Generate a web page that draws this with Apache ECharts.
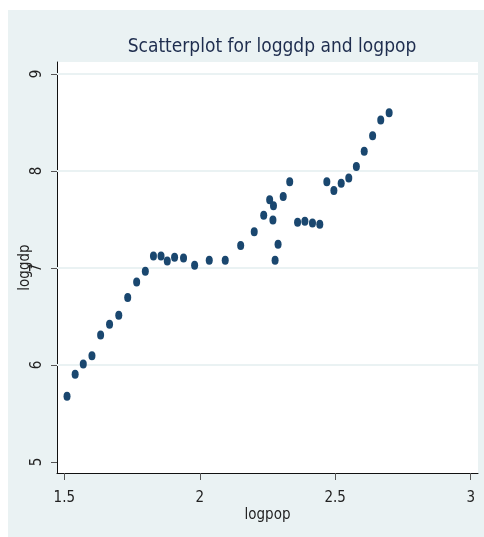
<!DOCTYPE html>
<html>
<head>
<meta charset="utf-8">
<script src="https://cdn.jsdelivr.net/npm/echarts@6/dist/echarts.min.js"></script>
<style>
    html, body { margin: 0; padding: 0; background: #ffffff; }
    #chart { width: 484px; height: 537px; }
</style>
</head>
<body>
<div id="chart"></div>
<script>
// logpop (x) and loggdp (y)
var logpop = [
    1.510, 1.540, 1.570, 1.602, 1.634, 1.667, 1.701, 1.734, 1.767, 1.799,
    1.829, 1.857, 1.880, 1.907, 1.940, 1.981, 2.035, 2.094, 2.151, 2.201,
    2.236, 2.258, 2.272, 2.270, 2.278, 2.289, 2.308, 2.332, 2.361, 2.388,
    2.416, 2.443, 2.469, 2.495, 2.522, 2.550, 2.578, 2.607, 2.638, 2.668,
    2.699
];
var loggdp = [
    5.677, 5.904, 6.010, 6.097, 6.310, 6.420, 6.513, 6.696, 6.857, 6.967,
    7.125, 7.125, 7.073, 7.111, 7.104, 7.029, 7.080, 7.080, 7.232, 7.373,
    7.545, 7.703, 7.641, 7.496, 7.080, 7.246, 7.738, 7.889, 7.473, 7.483,
    7.465, 7.452, 7.889, 7.800, 7.875, 7.927, 8.047, 8.205, 8.363, 8.525,
    8.601
];
// tick labels
var xTicks = [1.5, 2, 2.5, 3];
var yTicks = [5, 6, 7, 8, 9];
var yGrid = [6, 7, 8, 9];

var FONT = "'DejaVu Sans Condensed', 'Liberation Sans Narrow', sans-serif";
var BG = '#eaf2f3';
var NAVY = '#1a476f';

var points = logpop.map(function (x, i) {
    return [x, loggdp[i]];
});

var chart = echarts.init(document.getElementById('chart'), null, { renderer: 'canvas' });
chart.setOption({
    animation: false,
    backgroundColor: '#ffffff',
    textStyle: { fontFamily: FONT },
    graphic: [
        {
            type: 'rect',
            z: -10,
            shape: { x: 8, y: 10, width: 476, height: 527 },
            style: { fill: BG }
        }
    ],
    title: {
        text: 'Scatterplot for loggdp and logpop',
        left: 267,
        top: 33,
        textAlign: 'center',
        textStyle: {
            fontFamily: FONT,
            fontSize: 19,
            fontWeight: 'normal',
            color: '#1e2d4e'
        }
    },
    grid: {
        left: 57,
        top: 62,
        right: 6,
        bottom: 64,
        show: true,
        backgroundColor: '#ffffff',
        borderWidth: 0
    },
    xAxis: {
        type: 'value',
        min: 1.473,
        max: 3.027,
        name: 'logpop',
        nameLocation: 'middle',
        nameGap: 35,
        nameMoveOverlap: false,
        nameTextStyle: { fontFamily: FONT, fontSize: 15, color: '#222' },
        axisLine: { show: true, onZero: false, lineStyle: { color: '#111', width: 1 } },
        axisTick: { show: true, length: 7, lineStyle: { color: '#555' }, customValues: xTicks },
        axisLabel: {
            fontFamily: FONT,
            fontSize: 15,
            color: '#222',
            margin: 18,
            customValues: xTicks,
            formatter: function (v) { return String(v); }
        },
        splitLine: { show: false }
    },
    yAxis: {
        type: 'value',
        min: 4.887,
        max: 9.124,
        splitNumber: 4,
        name: 'loggdp',
        nameLocation: 'middle',
        nameGap: 24,
        nameRotate: 90,
        nameMoveOverlap: false,
        nameTextStyle: { fontFamily: FONT, fontSize: 15, color: '#222' },
        axisLine: { show: true, onZero: false, lineStyle: { color: '#111', width: 1 } },
        axisTick: { show: true, length: 6, lineStyle: { color: '#555' }, customValues: yTicks },
        axisLabel: {
            fontFamily: FONT,
            fontSize: 15,
            color: '#222',
            rotate: 90,
            margin: 12,
            showMinLabel: false,
            showMaxLabel: false
        },
        splitLine: { show: false }
    },
    series: [
        {
            type: 'scatter',
            symbol: 'circle',
            symbolSize: [7, 9],
            itemStyle: { color: NAVY, opacity: 1 },
            data: points,
            markLine: {
                silent: true,
                symbol: ['none', 'none'],
                label: { show: false },
                lineStyle: { color: BG, width: 2, type: 'solid' },
                data: yGrid.map(function (v) { return { yAxis: v }; }),
                z: 1
            },
            z: 5
        }
    ]
});
</script>
</body>
</html>
